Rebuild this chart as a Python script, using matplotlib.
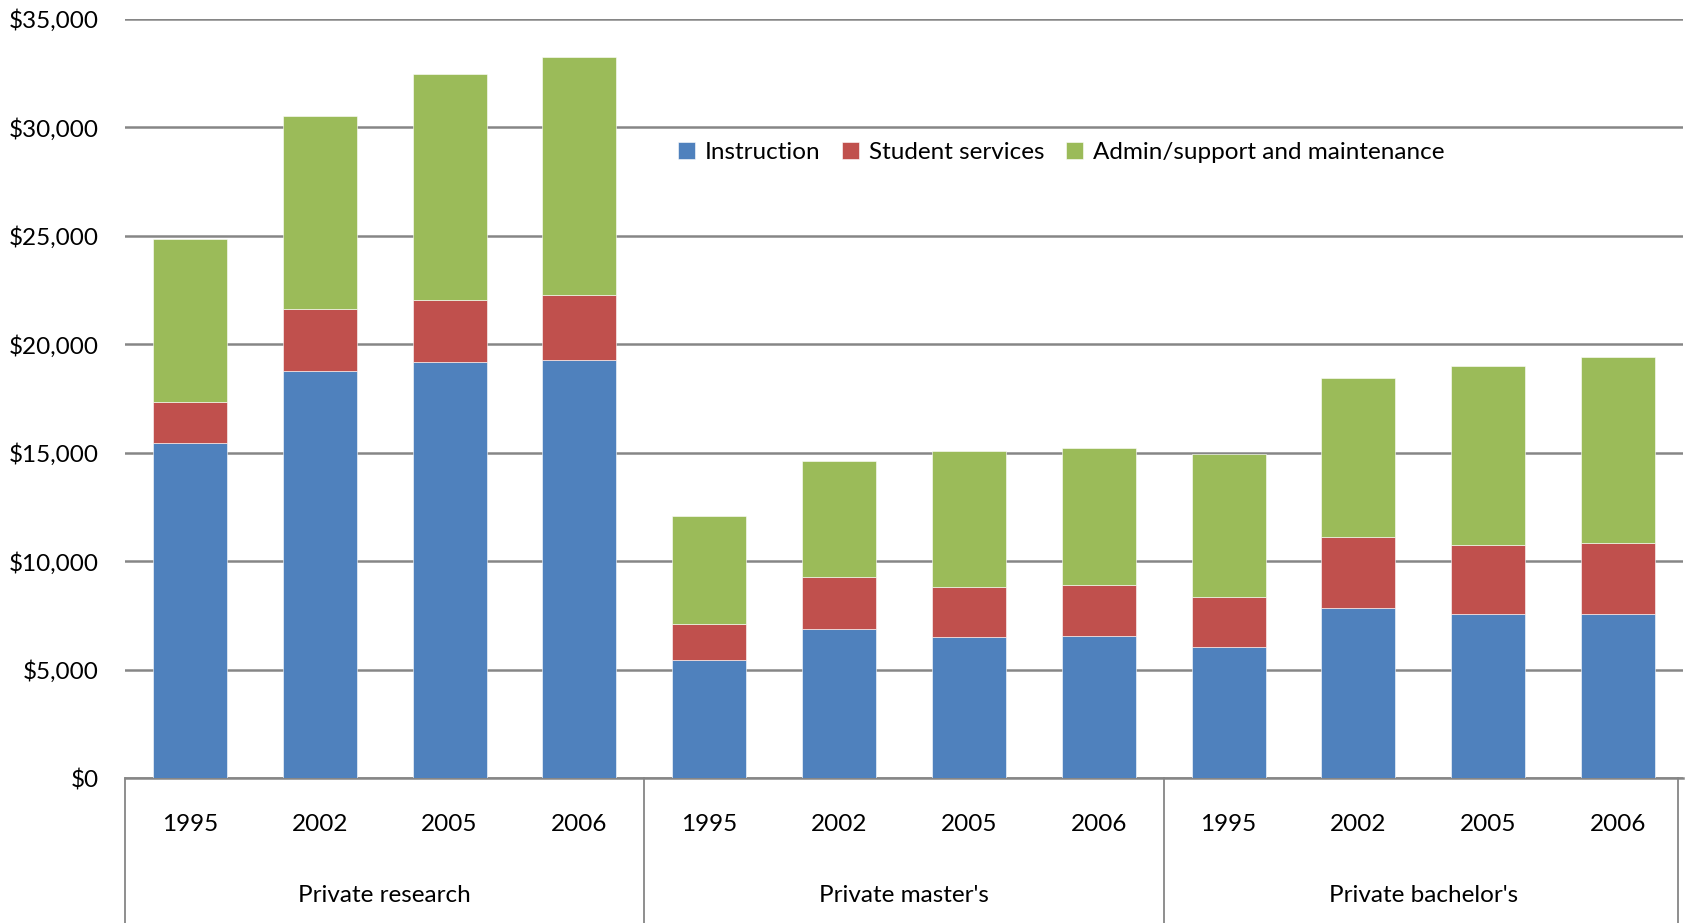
import matplotlib
matplotlib.use("Agg")
import matplotlib.pyplot as plt
import matplotlib.transforms as mtransforms
import numpy as np

groups = ["Private research", "Private master's", "Private bachelor's"]
years = ["1995", "2002", "2005", "2006"]

instruction = [15470, 18770, 19190, 19260,
               5420, 6890, 6520, 6540,
               6060, 7830, 7540, 7540]
student_services = [1890, 2870, 2850, 3020,
                    1690, 2390, 2300, 2360,
                    2290, 3280, 3200, 3300]
admin_support = [7490, 8870, 10420, 10960,
                 4960, 5340, 6280, 6340,
                 6570, 7350, 8270, 8580]

series_names = ["Instruction", "Student services", "Admin/support and maintenance"]
colours = ["#4F81BD", "#C0504D", "#9BBB59"]

plt.rcParams["font.family"] = ["Lato", "DejaVu Sans"]
fs = 17.5

fig = plt.figure(figsize=(16.85, 9.23), dpi=100)
ax = fig.add_axes([125 / 1685, 145 / 923, 1558 / 1685, 759 / 923])

x = np.arange(len(instruction))
bottom = np.zeros(len(x))
for vals, name, col in zip([instruction, student_services, admin_support], series_names, colours):
    ax.bar(x, vals, width=0.57, bottom=bottom, color=col, label=name,
           edgecolor="white", linewidth=0.4, zorder=3)
    bottom += np.array(vals)

ax.set_xlim(-0.5, len(x) - 0.5)
ax.set_ylim(0, 35000)
ax.set_yticks(np.arange(0, 35001, 5000))
ax.set_yticklabels([f"${v:,.0f}" for v in np.arange(0, 35001, 5000)], fontsize=fs)
ax.tick_params(axis="y", length=0, pad=19)
ax.grid(axis="y", color="#868686", linewidth=1.8, zorder=0)

ax.set_xticks(x)
ax.set_xticklabels(years * len(groups), fontsize=fs)
ax.tick_params(axis="x", length=0, pad=26)

for s in ["top", "right", "left"]:
    ax.spines[s].set_visible(False)
ax.spines["bottom"].set_color("#868686")
ax.spines["bottom"].set_linewidth(1.8)

# category box lines below the axis
trans = mtransforms.blended_transform_factory(ax.transData, fig.transFigure)
axes_bottom = 145 / 923
for sep in [-0.5, 3.5, 7.5, 11.46]:
    ax.plot([sep, sep], [0, axes_bottom], transform=trans, color="#868686",
            linewidth=1.3, clip_on=False)

for i, g in enumerate(groups):
    ax.text(i * 4 + 1.5, 27 / 923, g, transform=trans, ha="center", va="center", fontsize=fs)

ax.legend(loc="center", bbox_to_anchor=(0.601, 0.824), ncol=3, frameon=False,
          fontsize=fs, handlelength=0.7, handleheight=0.7, handletextpad=0.4,
          columnspacing=0.9)

fig.savefig("out.png", dpi=100)
